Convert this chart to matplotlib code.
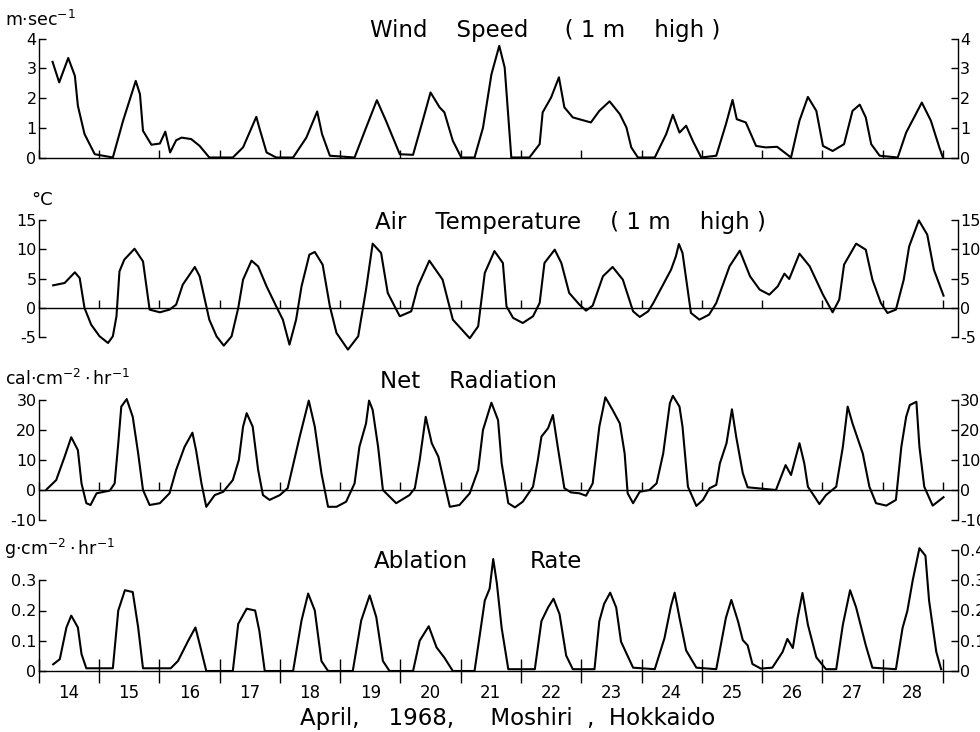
import matplotlib
matplotlib.use("Agg")
import matplotlib.pyplot as plt

plt.rcParams['font.family'] = 'DejaVu Sans'
plt.rcParams['axes.unicode_minus'] = False

# --- data: (day of April, value) ---
wind_pts = [
    (14.23, 3.22), (14.34, 2.53), (14.49, 3.35), (14.60, 2.75), (14.65, 1.74),
    (14.76, 0.79), (14.93, 0.11), (15.23, 0.0), (15.40, 1.24), (15.61, 2.58),
    (15.68, 2.13), (15.73, 0.90), (15.87, 0.43), (16.01, 0.47), (16.10, 0.87),
    (16.18, 0.17), (16.28, 0.58), (16.37, 0.67), (16.53, 0.62), (16.67, 0.39),
    (16.83, 0.0), (17.22, 0.0), (17.39, 0.34), (17.61, 1.37), (17.66, 1.00),
    (17.78, 0.17), (17.94, 0.0), (18.22, 0.0), (18.44, 0.67), (18.62, 1.55),
    (18.70, 0.79), (18.83, 0.06), (19.24, 0.0), (19.43, 1.00), (19.61, 1.93),
    (19.76, 1.24), (19.99, 0.11), (20.21, 0.09), (20.37, 1.24), (20.50, 2.19),
    (20.65, 1.69), (20.73, 1.52), (20.87, 0.56), (21.01, 0.0), (21.23, 0.0),
    (21.37, 1.00), (21.51, 2.80), (21.64, 3.76), (21.73, 3.03), (21.84, 0.0),
    (22.14, 0.0), (22.31, 0.45), (22.36, 1.52), (22.50, 2.02), (22.63, 2.70),
    (22.72, 1.69), (22.86, 1.35), (23.16, 1.18), (23.30, 1.57), (23.47, 1.89),
    (23.64, 1.46), (23.75, 1.01), (23.83, 0.34), (23.94, 0.0), (24.22, 0.0),
    (24.41, 0.79), (24.52, 1.44), (24.63, 0.84), (24.74, 1.07), (24.85, 0.56),
    (24.99, 0.0), (25.24, 0.06), (25.40, 1.12), (25.51, 1.94), (25.58, 1.29),
    (25.73, 1.18), (25.90, 0.39), (26.06, 0.34), (26.25, 0.36), (26.48, 0.0),
    (26.62, 1.24), (26.76, 2.04), (26.90, 1.57), (27.01, 0.39), (27.17, 0.22),
    (27.36, 0.45), (27.50, 1.57), (27.62, 1.78), (27.72, 1.35), (27.81, 0.45),
    (27.95, 0.06), (28.25, 0.0), (28.39, 0.84), (28.65, 1.85), (28.80, 1.24),
    (28.94, 0.34), (29.00, 0.0),
]

temp_pts = [
    (14.24, 3.86), (14.43, 4.26), (14.60, 6.08), (14.68, 5.10), (14.76, 0.0),
    (14.87, -2.84), (15.01, -4.83), (15.15, -5.97), (15.23, -4.83), (15.29, -1.42),
    (15.34, 6.25), (15.42, 8.24), (15.59, 10.1), (15.73, 7.95), (15.84, -0.28),
    (16.01, -0.74), (16.17, -0.28), (16.28, 0.57), (16.39, 3.98), (16.59, 6.99),
    (16.67, 5.40), (16.83, -1.99), (16.95, -4.83), (17.07, -6.42), (17.20, -4.83),
    (17.31, 0.0), (17.39, 4.83), (17.53, 8.07), (17.64, 7.10), (17.78, 3.69),
    (17.94, 0.28), (18.05, -1.99), (18.16, -6.25), (18.27, -1.99), (18.36, 3.69),
    (18.49, 9.09), (18.58, 9.55), (18.71, 7.39), (18.83, 0.28), (18.94, -4.26),
    (19.13, -7.10), (19.30, -4.83), (19.43, 3.13), (19.54, 10.97), (19.68, 9.38),
    (19.79, 2.56), (19.99, -1.42), (20.18, -0.57), (20.29, 3.69), (20.48, 8.07),
    (20.70, 4.83), (20.87, -1.99), (21.15, -5.17), (21.29, -3.13), (21.40, 5.97),
    (21.56, 9.70), (21.70, 7.67), (21.76, 0.28), (21.87, -1.70), (22.03, -2.56),
    (22.20, -1.42), (22.31, 0.85), (22.39, 7.67), (22.56, 9.94), (22.67, 7.67),
    (22.80, 2.56), (22.97, 0.57), (23.08, -0.45), (23.19, 0.40), (23.36, 5.40),
    (23.52, 6.99), (23.69, 4.83), (23.86, -0.57), (23.97, -1.53), (24.11, -0.57),
    (24.19, 0.74), (24.49, 6.53), (24.57, 8.81), (24.62, 10.9), (24.68, 9.38),
    (24.82, -0.85), (24.96, -1.99), (25.12, -1.14), (25.24, 0.85), (25.46, 7.10),
    (25.63, 9.77), (25.80, 5.40), (25.96, 3.13), (26.12, 2.27), (26.26, 3.69),
    (26.37, 5.85), (26.45, 4.94), (26.62, 9.26), (26.79, 7.10), (27.01, 2.27),
    (27.17, -0.74), (27.28, 1.42), (27.36, 7.39), (27.56, 10.97), (27.72, 9.94),
    (27.83, 4.83), (27.97, 0.85), (28.08, -0.85), (28.22, -0.28), (28.35, 4.83),
    (28.44, 10.5), (28.60, 14.94), (28.74, 12.5), (28.85, 6.53), (29.01, 2.10),
]

rad_pts = [
    (14.13, 0.2), (14.29, 3.3), (14.43, 11.1), (14.54, 17.6), (14.65, 13.3),
    (14.71, 2.2), (14.79, -4.4), (14.86, -5.0), (14.96, -1.1), (15.18, -0.2),
    (15.26, 2.2), (15.32, 15.6), (15.37, 27.8), (15.46, 30.3), (15.56, 24.4),
    (15.65, 12.2), (15.73, 0.0), (15.84, -5.0), (16.01, -4.4), (16.17, -1.1),
    (16.28, 6.7), (16.42, 14.4), (16.55, 19.1), (16.61, 13.3), (16.70, 2.2),
    (16.78, -5.6), (16.92, -1.7), (17.06, -0.6), (17.22, 3.3), (17.32, 10.0),
    (17.39, 21.1), (17.45, 25.6), (17.55, 21.1), (17.64, 6.7), (17.72, -1.7),
    (17.83, -3.3), (18.00, -1.7), (18.13, 0.6), (18.33, 17.8), (18.48, 29.8),
    (18.58, 21.1), (18.69, 5.6), (18.80, -5.6), (18.94, -5.6), (19.10, -3.9),
    (19.24, 2.2), (19.32, 14.4), (19.43, 22.2), (19.48, 29.8), (19.54, 26.7),
    (19.63, 14.4), (19.71, 0.0), (19.93, -4.4), (20.15, -1.7), (20.24, 0.6),
    (20.32, 10.0), (20.42, 24.4), (20.52, 15.6), (20.63, 11.1), (20.73, 2.2),
    (20.82, -5.6), (20.98, -5.0), (21.15, -1.1), (21.29, 6.7), (21.37, 20.0),
    (21.51, 29.1), (21.62, 23.3), (21.68, 8.9), (21.79, -4.4), (21.90, -5.8),
    (22.03, -3.9), (22.20, 1.1), (22.28, 10.0), (22.34, 17.8), (22.45, 20.6),
    (22.53, 25.0), (22.61, 14.4), (22.72, 0.6), (22.83, -0.8), (22.97, -1.1),
    (23.08, -1.9), (23.19, 2.2), (23.30, 21.1), (23.40, 30.9), (23.52, 26.7),
    (23.64, 22.2), (23.72, 12.2), (23.77, -1.1), (23.86, -4.4), (23.97, -0.6),
    (24.13, 0.0), (24.25, 2.2), (24.36, 12.2), (24.47, 28.9), (24.52, 31.4),
    (24.63, 27.8), (24.68, 21.1), (24.77, 1.1), (24.91, -5.3), (25.02, -3.3),
    (25.13, 0.6), (25.24, 1.7), (25.30, 8.9), (25.41, 15.6), (25.50, 26.9),
    (25.57, 17.8), (25.68, 5.6), (25.76, 0.9), (26.23, 0.0), (26.39, 8.3),
    (26.48, 5.0), (26.62, 15.6), (26.70, 8.9), (26.76, 1.1), (26.87, -2.2),
    (26.95, -4.7), (27.06, -1.7), (27.23, 1.1), (27.34, 14.4), (27.42, 27.8),
    (27.50, 22.2), (27.67, 12.2), (27.78, 1.1), (27.89, -4.4), (28.06, -5.2),
    (28.22, -3.3), (28.31, 14.4), (28.39, 24.4), (28.45, 28.3), (28.56, 29.4),
    (28.61, 14.4), (28.69, 1.1), (28.83, -5.2), (29.01, -2.4),
]

abl_pts = [
    (14.24, 0.022), (14.35, 0.039), (14.46, 0.144), (14.54, 0.183), (14.65, 0.144),
    (14.71, 0.056), (14.79, 0.009), (15.23, 0.009), (15.32, 0.200), (15.43, 0.267),
    (15.56, 0.261), (15.65, 0.144), (15.73, 0.009), (16.19, 0.009), (16.31, 0.033),
    (16.48, 0.100), (16.60, 0.144), (16.67, 0.089), (16.78, 0.0), (17.22, 0.0),
    (17.31, 0.156), (17.45, 0.206), (17.59, 0.200), (17.66, 0.133), (17.75, 0.0),
    (18.22, 0.0), (18.36, 0.167), (18.47, 0.256), (18.58, 0.200), (18.69, 0.033),
    (18.80, 0.0), (19.21, 0.0), (19.35, 0.167), (19.49, 0.250), (19.60, 0.178),
    (19.71, 0.033), (19.82, 0.0), (20.21, 0.0), (20.32, 0.100), (20.47, 0.148),
    (20.60, 0.078), (20.73, 0.044), (20.87, 0.0), (21.23, 0.0), (21.40, 0.233),
    (21.48, 0.272), (21.54, 0.370), (21.60, 0.290), (21.68, 0.142), (21.79, 0.006),
    (22.23, 0.006), (22.34, 0.165), (22.45, 0.210), (22.54, 0.239), (22.64, 0.188),
    (22.75, 0.051), (22.86, 0.006), (23.22, 0.006), (23.30, 0.165), (23.38, 0.222),
    (23.48, 0.259), (23.58, 0.210), (23.66, 0.097), (23.86, 0.011), (24.22, 0.006),
    (24.38, 0.108), (24.49, 0.216), (24.55, 0.259), (24.63, 0.176), (24.74, 0.068),
    (24.91, 0.011), (25.24, 0.006), (25.40, 0.176), (25.49, 0.235), (25.60, 0.165),
    (25.68, 0.102), (25.76, 0.085), (25.84, 0.023), (25.98, 0.008), (26.17, 0.011),
    (26.34, 0.063), (26.42, 0.106), (26.51, 0.076), (26.59, 0.176), (26.67, 0.258),
    (26.76, 0.153), (26.90, 0.045), (27.06, 0.006), (27.23, 0.006), (27.34, 0.153),
    (27.46, 0.267), (27.56, 0.210), (27.72, 0.085), (27.83, 0.011), (28.22, 0.006),
    (28.33, 0.142), (28.41, 0.199), (28.50, 0.301), (28.61, 0.406), (28.71, 0.381),
    (28.77, 0.233), (28.89, 0.063), (28.97, 0.006),
]

days = list(range(14, 29))
wind_ticks = [0, 1, 2, 3, 4]
temp_ticks = [-5, 0, 5, 10, 15]
rad_ticks = [-10, 0, 10, 20, 30]
abl_ticks = [0, 0.1, 0.2, 0.3, 0.4]
abl_labels = ['0', '0.1', '0.2', '0.3', '0.4']

W, H = 980, 732
fig = plt.figure(figsize=(W / 100, H / 100), dpi=100)


def fx(px):
    return px / W


def fy(py):
    return 1 - py / H


X0, X1 = 38.7, 958.0


def make_panel(top, bottom, pts, ylim, ticks, labels):
    ax = fig.add_axes([fx(X0), fy(bottom), (X1 - X0) / W, (bottom - top) / H])
    t = [p[0] for p in pts]
    v = [p[1] for p in pts]
    ax.plot(t, v, color='black', lw=1.5, clip_on=False, solid_joinstyle='round')
    ax.set_xlim(14, 29.25)
    ax.set_ylim(*ylim)
    ax.spines['top'].set_visible(False)
    ax.spines['bottom'].set_position(('data', 0))
    for s in ax.spines.values():
        s.set_linewidth(1.0)
    ax.set_xticks(range(14, 30))
    ax.tick_params(axis='x', which='major', direction='in', length=6, width=1,
                   labelbottom=False)
    ax.set_yticks(ticks)
    ax.set_yticklabels(labels)
    ax.tick_params(axis='y', direction='in', length=5, width=1, left=True,
                   right=True, labelleft=True, labelright=True, labelsize=11.5,
                   pad=1.5)
    ax.patch.set_visible(False)
    return ax


make_panel(38.7, 157.5, wind_pts, (0, 4), wind_ticks, [str(k) for k in wind_ticks])
make_panel(220.0, 337.3, temp_pts, (-5, 15), temp_ticks, [str(k) for k in temp_ticks])
make_panel(400.0, 520.0, rad_pts, (-10, 30), rad_ticks, [str(k) for k in rad_ticks])
ax4 = make_panel(550.0, 671.0, abl_pts, (0, 0.4), abl_ticks, abl_labels)

# ablation: left axis stops at 0.3, day ticks cross the zero line
ax4.spines['left'].set_bounds(0, 0.3)
top_tick = ax4.yaxis.get_major_ticks()[-1]
top_tick.tick1line.set_visible(False)
top_tick.label1.set_visible(False)
ax4.tick_params(axis='x', which='major', direction='inout', length=17)
ax4.set_xticks([d + 0.5 for d in days], minor=True)
ax4.set_xticklabels([str(d) for d in days], minor=True)
ax4.tick_params(axis='x', which='minor', length=0, labelbottom=True,
                labelsize=12, pad=9)

# titles and units
TS = 16.5
fig.text(fx(545), fy(30), 'Wind    Speed     ( 1 m    high )', fontsize=TS,
         ha='center', va='center')
fig.text(fx(570), fy(222), 'Air    Temperature    ( 1 m    high )', fontsize=TS,
         ha='center', va='center')
fig.text(fx(468), fy(381), 'Net    Radiation', fontsize=TS,
         ha='center', va='center')
fig.text(fx(421), fy(561), 'Ablation', fontsize=TS, ha='center', va='center')
fig.text(fx(556), fy(561), 'Rate', fontsize=TS, ha='center', va='center')
fig.text(fx(508), fy(719), 'April,    1968,     Moshiri  ,  Hokkaido', fontsize=TS,
         ha='center', va='center')

fig.text(fx(5), fy(20), r'm$\cdot$sec$^{-1}$', fontsize=12.5, ha='left', va='center')
fig.text(fx(31), fy(200), '°C', fontsize=13, ha='left', va='center')
fig.text(fx(5), fy(379), r'cal$\cdot$cm$^{-2}\cdot$hr$^{-1}$', fontsize=12.5,
         ha='left', va='center')
fig.text(fx(4), fy(549), r'g$\cdot$cm$^{-2}\cdot$hr$^{-1}$', fontsize=12.5,
         ha='left', va='center')

fig.savefig('out.png', dpi=100)
